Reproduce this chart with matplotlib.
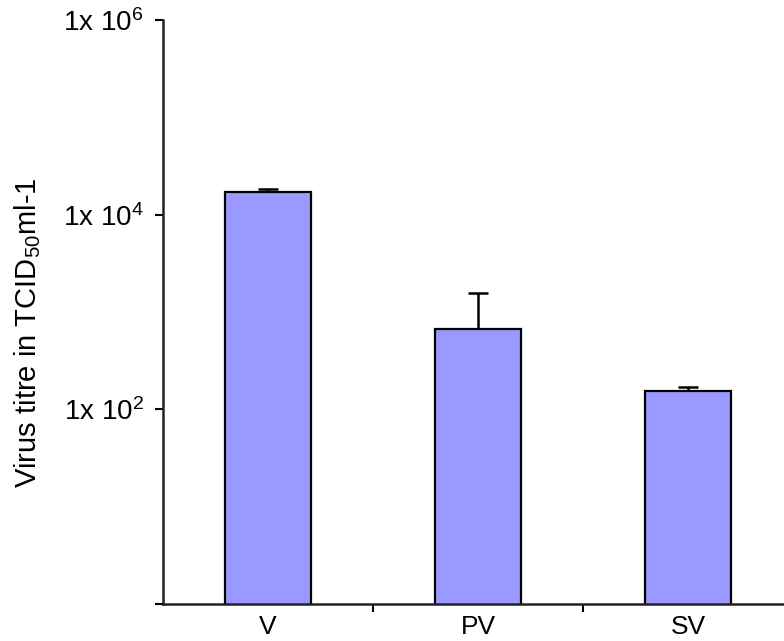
import matplotlib
matplotlib.use("Agg")
import matplotlib.pyplot as plt
import numpy as np
from matplotlib.ticker import FixedLocator

plt.rcParams["font.family"] = ["Liberation Sans", "DejaVu Sans"]
plt.rcParams["mathtext.fontset"] = "custom"
plt.rcParams["mathtext.rm"] = "Liberation Sans"
plt.rcParams["mathtext.it"] = "Liberation Sans:italic"
plt.rcParams["mathtext.bf"] = "Liberation Sans:bold"

# Data
groups = ["V", "PV", "SV"]
titre = [1.71e4, 670, 155]
titre_err_up = [1300, 900, 15]

y_ticks = [1, 1e2, 1e4, 1e6]
y_tick_labels = ["", "1x 10$^{2}$", "1x 10$^{4}$", "1x 10$^{6}$"]

fig = plt.figure(figsize=(7.84, 6.41), dpi=100)
ax = fig.add_axes([163 / 784, 37 / 641, 1 - 163 / 784, 584 / 641])

x = np.arange(len(groups))
ax.bar(x, titre, width=0.41, color="#9999ff", edgecolor="black",
       linewidth=1.6, zorder=2)
yerr = np.array([np.zeros(len(titre)), titre_err_up])
ax.errorbar(x, titre, yerr=yerr, fmt="none", ecolor="black",
            elinewidth=1.8, capsize=7, capthick=1.8, zorder=1)

ax.set_yscale("log")
ax.set_ylim(1, 1e6)
ax.set_xlim(-0.5, 2.457)

ax.yaxis.set_major_locator(FixedLocator(y_ticks))
ax.yaxis.set_minor_locator(FixedLocator([]))
ax.set_yticklabels(y_tick_labels, fontsize=20)

ax.set_xticks(x)
ax.set_xticklabels(groups, fontsize=19)
ax.set_xticks([0.5, 1.5], minor=True)
ax.tick_params(axis="x", which="major", length=0, pad=8)
ax.tick_params(axis="x", which="minor", length=6, width=1.5, direction="out")
ax.tick_params(axis="y", which="major", length=6, width=1.5, direction="out", pad=8)

for side in ["top", "right"]:
    ax.spines[side].set_visible(False)
for side in ["left", "bottom"]:
    ax.spines[side].set_linewidth(1.8)
    ax.spines[side].set_color("#222222")

ax.set_ylabel("Virus titre in TCID$_{50}$ml-1", fontsize=21)
ax.yaxis.set_label_coords(-0.194, 0.464)

fig.savefig("out.png", dpi=100)
